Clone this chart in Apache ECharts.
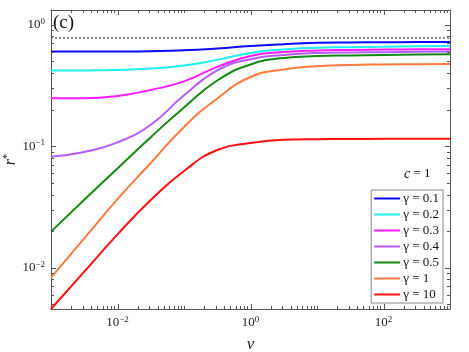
<!DOCTYPE html>
<html>
<head>
<meta charset="utf-8">
<script src="https://cdn.jsdelivr.net/npm/echarts@6/dist/echarts.min.js"></script>
<style>html,body{margin:0;padding:0;background:#fff;}#chart{width:469px;height:352px;}</style>
</head>
<body>
<div id="chart"></div>
<script>
// ---- data ----
const vValues = [0.001, 0.003162, 0.01, 0.03162, 0.1, 0.3162, 1, 3.162, 10, 31.62, 100, 316.2, 1000];
const gammaNames = ['0.1', '0.2', '0.3', '0.4', '0.5', '1', '10'];
const r_g01 = [0.600, 0.600, 0.601, 0.605, 0.615, 0.637, 0.668, 0.691, 0.708, 0.714, 0.717, 0.719, 0.721];
const r_g02 = [0.420, 0.420, 0.424, 0.436, 0.461, 0.513, 0.585, 0.625, 0.645, 0.653, 0.658, 0.663, 0.668];
const r_g03 = [0.248, 0.248, 0.259, 0.290, 0.341, 0.449, 0.553, 0.596, 0.613, 0.619, 0.623, 0.626, 0.628];
const r_g04 = [0.082, 0.0896, 0.1075, 0.150, 0.262, 0.420, 0.520, 0.563, 0.585, 0.591, 0.594, 0.597, 0.600];
const r_g05 = [0.0198, 0.0362, 0.0656, 0.1186, 0.208, 0.347, 0.470, 0.532, 0.551, 0.558, 0.563, 0.567, 0.571];
const r_g1  = [0.00828, 0.0174, 0.0367, 0.0727, 0.144, 0.247, 0.371, 0.428, 0.455, 0.466, 0.470, 0.473, 0.475];
const r_g10 = [0.00457, 0.00927, 0.0188, 0.036, 0.0625, 0.093, 0.106, 0.1127, 0.114, 0.1145, 0.115, 0.115, 0.115];
const limitLevel = 0.777;
const xRange = [0.001, 1000];
const yRange = [0.00457, 1.32];
const xLabelExponents = [-2, 0, 2];
const yLabelExponents = [-2, -1, 0];

const seriesValues = [r_g01, r_g02, r_g03, r_g04, r_g05, r_g1, r_g10];
const colors = ['#0a0aff', '#1ef0f0', '#ff1aff', '#b45cff', '#138a13', '#ff7a3d', '#ff1010'];

// tick positions (decade majors + 2..9 minors), built from the ranges
function buildTicks(range, majorExps) {
  const out = [];
  const e0 = Math.floor(Math.log10(range[0])), e1 = Math.ceil(Math.log10(range[1]));
  for (let e = e0; e <= e1; e++) {
    for (let k = 1; k <= 9; k++) {
      const v = k * Math.pow(10, e);
      if (v <= range[0] * 1.0001 || v >= range[1] * 0.9999) continue;
      out.push([v, (k === 1 && majorExps.indexOf(e) >= 0) ? 1 : 0]);
    }
  }
  return out;
}
const xTicks = buildTicks(xRange, xLabelExponents);
const yTicks = buildTicks(yRange, yLabelExponents);

const SERIF = '"Liberation Serif", "DejaVu Serif", serif';
const AXIS_COLOR = '#555';

function powLabel(exps) {
  return function (val) {
    const e = Math.round(Math.log10(val));
    if (Math.abs(val / Math.pow(10, e) - 1) > 1e-6) return '';
    if (exps.indexOf(e) < 0) return '';
    return '10{s|' + (e < 0 ? '\u2212' + (-e) : e) + '}';
  };
}
const labelRich = { s: { fontSize: 9, fontFamily: SERIF, color: '#222', padding: [0, 0, 7, 0] } };

const lineSeries = seriesValues.map((vals, i) => ({
  name: 'γ = ' + gammaNames[i],
  type: 'line',
  xAxisIndex: 0, yAxisIndex: 0,
  data: vValues.map((v, j) => [v, vals[j]]),
  symbol: 'none',
  smooth: 0.5,
  lineStyle: { width: 2, color: colors[i] },
  itemStyle: { color: colors[i] },
  z: 3
}));

const limitSeries = {
  name: 'limit', type: 'line', xAxisIndex: 0, yAxisIndex: 0,
  data: [[xRange[0], limitLevel], [xRange[1], limitLevel]],
  symbol: 'none',
  lineStyle: { width: 1.5, color: '#666', type: [2, 2] },
  z: 2, silent: true
};

const xTickSeries = {
  name: 'xticks', type: 'custom', xAxisIndex: 0, yAxisIndex: 0, silent: true, z: 5,
  data: xTicks.map(t => [t[0], yRange[0], t[1]]),
  renderItem: function (params, api) {
    const p = api.coord([api.value(0), api.value(1)]);
    const cs = params.coordSys;
    const len = api.value(2) ? 5 : 3;
    const st = { stroke: AXIS_COLOR, lineWidth: 1 };
    const x = Math.round(p[0]) + 0.5;
    return { type: 'group', children: [
      { type: 'line', shape: { x1: x, y1: cs.y + cs.height, x2: x, y2: cs.y + cs.height - len }, style: st },
      { type: 'line', shape: { x1: x, y1: cs.y, x2: x, y2: cs.y + len }, style: st }
    ]};
  }
};
const yTickSeries = {
  name: 'yticks', type: 'custom', xAxisIndex: 0, yAxisIndex: 0, silent: true, z: 5,
  data: yTicks.map(t => [xRange[0], t[0], t[1]]),
  renderItem: function (params, api) {
    const p = api.coord([api.value(0), api.value(1)]);
    const cs = params.coordSys;
    const len = api.value(2) ? 5 : 3;
    const st = { stroke: AXIS_COLOR, lineWidth: 1 };
    const y = Math.round(p[1]) + 0.5;
    return { type: 'group', children: [
      { type: 'line', shape: { x1: cs.x, y1: y, x2: cs.x + len, y2: y }, style: st },
      { type: 'line', shape: { x1: cs.x + cs.width, y1: y, x2: cs.x + cs.width - len, y2: y }, style: st }
    ]};
  }
};

const baseAxis = {
  type: 'log', logBase: 10,
  axisLine: { show: true, onZero: false, lineStyle: { color: AXIS_COLOR, width: 1 } },
  axisTick: { show: false },
  splitLine: { show: false },
  minorTick: { show: false },
  minorSplitLine: { show: false },
  nameMoveOverlap: false
};

const chart = echarts.init(document.getElementById('chart'), null, { renderer: 'canvas' });
chart.setOption({
  animation: false,
  backgroundColor: '#fff',
  grid: { left: 51, right: 19, top: 10, bottom: 43, containLabel: false, outerBoundsMode: 'none' },
  xAxis: [
    Object.assign({}, baseAxis, {
      position: 'bottom', min: xRange[0], max: xRange[1],
      axisLabel: { formatter: powLabel(xLabelExponents), fontSize: 13, fontFamily: SERIF, color: '#222', margin: 6, rich: labelRich },
      name: '{i|v}', nameLocation: 'middle', nameGap: 27,
      nameTextStyle: { rich: { i: { fontSize: 17, fontStyle: 'italic', fontFamily: SERIF, color: '#222' } } }
    }),
    Object.assign({}, baseAxis, { position: 'top', min: xRange[0], max: xRange[1], axisLabel: { show: false } })
  ],
  yAxis: [
    Object.assign({}, baseAxis, {
      position: 'left', min: yRange[0], max: yRange[1],
      axisLabel: { formatter: powLabel(yLabelExponents), fontSize: 13, fontFamily: SERIF, color: '#222', margin: 6, rich: labelRich },
      name: '{i|r}{s|*}', nameLocation: 'middle', nameGap: 31,
      nameTextStyle: { rich: {
        i: { fontSize: 16, fontStyle: 'italic', fontFamily: SERIF, color: '#222' },
        s: { fontSize: 11, fontFamily: SERIF, color: '#222', padding: [0, 0, 7, 0] }
      } }
    }),
    Object.assign({}, baseAxis, { position: 'right', min: yRange[0], max: yRange[1], axisLabel: { show: false } })
  ],
  legend: {
    data: lineSeries.map(s => s.name),
    orient: 'vertical', right: 26, bottom: 49,
    icon: 'rect', itemWidth: 26, itemHeight: 2, itemGap: 3,
    backgroundColor: '#fff', borderColor: '#888', borderWidth: 1, borderRadius: 0,
    padding: [2, 4, 2, 3],
    selectedMode: false,
    textStyle: { fontSize: 13, fontFamily: SERIF, color: '#111', padding: [0, 0, 0, -2], lineHeight: 13 }
  },
  graphic: [
    { type: 'text', left: 53, top: 14, style: { text: '(c)', fontSize: 19, fontFamily: SERIF, fill: '#111' } },
    { type: 'text', left: 404, top: 167, style: { text: '{i|c} = 1', fontSize: 13, fontFamily: SERIF, fill: '#111',
      rich: { i: { fontStyle: 'italic', fontSize: 14, fontFamily: SERIF, fill: '#111' } } } }
  ],
  series: [limitSeries].concat(lineSeries, [xTickSeries, yTickSeries])
});
</script>
</body>
</html>
